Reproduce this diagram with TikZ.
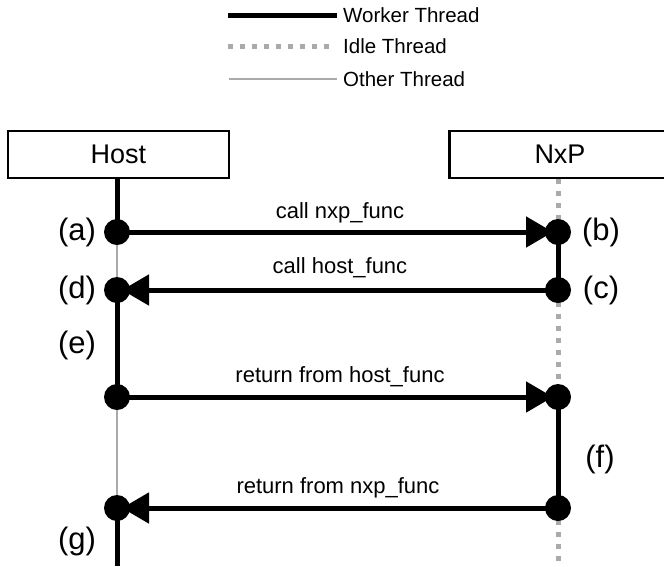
\documentclass[tikz,border=0pt]{standalone}
\usepackage{fontspec}
\setmainfont{Liberation Sans}
\usetikzlibrary{arrows.meta}
\definecolor{thrgray}{RGB}{170,170,170}
\begin{document}
\begin{tikzpicture}[x=1pt,y=-1pt,
  worker/.style={line width=5pt, black},
  idle/.style={line width=5pt, thrgray, dash pattern=on 5pt off 7pt},
  other/.style={line width=2.5pt, thrgray},
  dot/.style={circle, fill=black, inner sep=0pt, minimum size=26pt},
  msg/.style={worker, -{Triangle[length=27pt,width=30pt]}, shorten >=5pt},
  box/.style={draw, line width=2.5pt, minimum width=221pt, minimum height=47pt, inner sep=0pt, font=\fontsize{27}{30}\selectfont},
  legtext/.style={anchor=west, inner sep=0pt, font=\fontsize{20.5}{24}\selectfont},
  msgtext/.style={inner sep=0pt, font=\fontsize{22}{26}\selectfont},
  evtext/.style={inner sep=0pt, font=\fontsize{31}{34}\selectfont}]
\useasboundingbox (0,0) rectangle (664,566);
\clip (0,0) rectangle (664,566);
% legend
\coordinate (lw1) at (228,15); \coordinate (lw2) at (337,15);
\coordinate (li1) at (228,46); \coordinate (li2) at (330,46);
\coordinate (lo1) at (229,79); \coordinate (lo2) at (337,79);
\draw[worker] (lw1) -- (lw2);
\draw[idle] (li1) -- (li2);
\draw[other] (lo1) -- (lo2);
\node[legtext] (tw) at (343,15) {Worker Thread};
\node[legtext] (ti) at (343,46) {Idle Thread};
\node[legtext] (to) at (343,79) {Other Thread};
% boxes
\node[box] (host) at (118.5,154.5) {Host};
\node[box] (nxp) at (560,154.5) {NxP};
% event coordinates
\coordinate (A) at (117,232);
\coordinate (B) at (558,232);
\coordinate (C) at (558,290);
\coordinate (D) at (117,290);
\coordinate (E) at (117,397);
\coordinate (F1) at (558,397);
\coordinate (F2) at (558,508);
\coordinate (G) at (117,508);
\coordinate (hend) at (117,566);
\coordinate (nend) at (558,566);
% host lifeline
\draw[worker] (host.south -| A) -- (A);
\draw[other] (A) -- (D);
\draw[worker] (D) -- (E);
\draw[other] (E) -- (G);
\draw[worker] (G) -- (hend);
% nxp lifeline
\draw[idle] (nxp.south -| B) -- (B);
\draw[worker] (B) -- (C);
\draw[idle] (C) -- (F1);
\draw[worker] (F1) -- (F2);
\draw[idle] (F2) -- (nend);
% messages
\draw[msg] (A) -- (B);
\draw[msg] (C) -- (D);
\draw[msg] (E) -- (F1);
\draw[msg] (F2) -- (G);
% dots
\node[dot] (a) at (A) {};
\node[dot] (b) at (B) {};
\node[dot] (c) at (C) {};
\node[dot] (d) at (D) {};
\node[dot] (e) at (E) {};
\node[dot] (f1) at (F1) {};
\node[dot] (f2) at (F2) {};
\node[dot] (g) at (G) {};
% message labels
\node[msgtext] (m1) at (340,213) {call nxp\_func};
\node[msgtext] (m2) at (340,268) {call host\_func};
\node[msgtext] (m3) at (340,377) {return from host\_func};
\node[msgtext] (m4) at (338,488) {return from nxp\_func};
% event labels
\node[evtext] (la) at (77,232) {(a)};
\node[evtext] (lb) at (601,232) {(b)};
\node[evtext] (lc) at (601,290) {(c)};
\node[evtext] (ld) at (77,290) {(d)};
\node[evtext] (le) at (77,345) {(e)};
\node[evtext] (lf) at (600,459) {(f)};
\node[evtext] (lg) at (77,541) {(g)};
\end{tikzpicture}
\end{document}
